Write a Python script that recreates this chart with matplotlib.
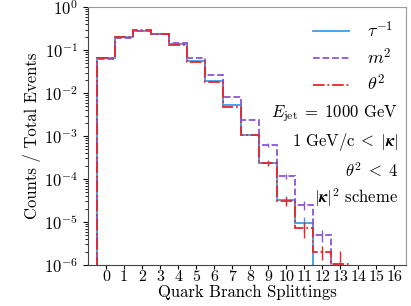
import numpy as np
import matplotlib
matplotlib.use("Agg")
import matplotlib.pyplot as plt

plt.rcParams['font.family'] = 'serif'
plt.rcParams['font.serif'] = ['cmr10', 'DejaVu Serif']
plt.rcParams['mathtext.fontset'] = 'cm'
plt.rcParams['axes.formatter.use_mathtext'] = True

# Data (fraction of events per number of quark branch splittings)
tau_vals = [0.064, 0.20, 0.28, 0.23, 0.135, 0.055, 0.019, 0.0052, 0.00105, 2.4e-4, 3.3e-5, 9.5e-6]
tau_err = [0, 0, 0, 0, 0, 0, 0, 0, 0, 0.3e-4, 0.7e-5, 3.5e-6]
m2_vals = [0.062, 0.19, 0.27, 0.23, 0.142, 0.065, 0.026, 0.0083, 0.0023, 6.2e-4, 1.15e-4, 2.5e-5, 5.0e-6]
m2_err = [0, 0, 0, 0, 0, 0, 0, 0, 0, 0.5e-4, 1.5e-5, 0.6e-5, 1.5e-6]
theta_vals = [0.064, 0.205, 0.29, 0.23, 0.13, 0.054, 0.0185, 0.0047, 0.00103, 2.3e-4, 3.1e-5, 7.2e-6, 2.0e-6, 1.05e-6]
theta_err = [0, 0, 0, 0, 0, 0, 0, 0, 0, 0.3e-4, 0.7e-5, 3.0e-6, 0.7e-6, 1.05e-6]

series = [
    (r'$\tau^{-1}$', tau_vals, tau_err, '#3a9de6', '-'),
    (r'$m^2$', m2_vals, m2_err, '#8e55d6', '--'),
    (r'$\theta^2$', theta_vals, theta_err, '#e8252b', '-.'),
]

xticks = list(range(0, 17))

fig = plt.figure(figsize=(4.11, 3.06), dpi=100)
ax = fig.add_axes([0.214, 0.134, 0.774, 0.843])

for label, vals, err, color, ls in series:
    n = len(vals)
    edges = np.arange(n + 1) - 0.5
    centers = np.arange(n)
    ax.stairs(vals, edges, baseline=1e-8, color=color, linestyle=ls, lw=1.3, label=label)
    ax.errorbar(centers, vals, yerr=err, fmt='none', ecolor=color, elinewidth=1.0, capsize=0)

ax.set_yscale('log')
ax.set_ylim(1e-6, 1e0)
ax.set_xlim(-1, 16.65)
ax.set_xticks(xticks)
ax.set_xticklabels([str(t) for t in xticks], fontsize=11.5)
ax.tick_params(axis='y', labelsize=12)
ax.tick_params(axis='x', pad=1.0, length=3)
ax.set_xlabel('Quark Branch Splittings', fontsize=12, labelpad=0)
ax.set_ylabel('Counts / Total Events', fontsize=12, labelpad=2)

for s in ['left', 'bottom']:
    ax.spines[s].set_color('#444444')
for s in ['top', 'right']:
    ax.spines[s].set_color('#999999')

leg = ax.legend(loc='upper right', frameon=False, fontsize=13, handlelength=2.0,
                handletextpad=1.0, labelspacing=0.35, borderaxespad=0.3)

tx = 0.975
ax.text(tx, 0.585, r'$E_{\rm jet}\;=\;1000$ GeV', transform=ax.transAxes, ha='right', va='center', fontsize=12)
ax.text(tx, 0.475, r'$1\ \mathrm{GeV/c}\;<\;|\boldsymbol{\kappa}|$', transform=ax.transAxes, ha='right', va='center', fontsize=12)
ax.text(tx, 0.365, r'$\theta^2\;<\;4$', transform=ax.transAxes, ha='right', va='center', fontsize=12)
ax.text(tx, 0.262, r'$|\boldsymbol{\kappa}|^2$ scheme', transform=ax.transAxes, ha='right', va='center', fontsize=12)

fig.savefig('out.png', dpi=100)
